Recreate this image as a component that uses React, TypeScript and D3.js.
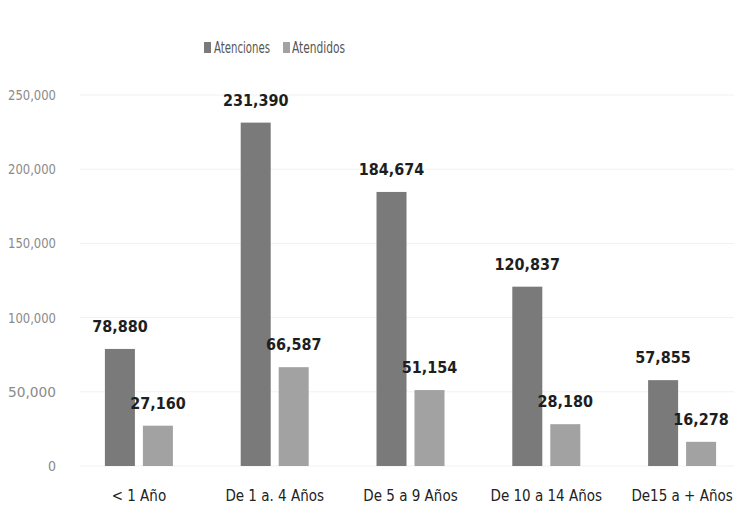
import React from "react";
import * as d3 from "d3";

const categories = ["< 1 Año", "De 1 a. 4 Años", "De 5 a 9 Años", "De 10 a 14 Años", "De15 a + Años"];
const seriesNames = ["Atenciones", "Atendidos"];
const atenciones = [78880, 231390, 184674, 120837, 57855];
const atendidos = [27160, 66587, 51154, 28180, 16278];
const yTicks = [0, 50000, 100000, 150000, 200000, 250000];

const W = 734;
const H = 524;
const colors = ["#7a7a7a", "#a2a2a2"];
const narrow = "'DejaVu Sans Condensed', 'Liberation Sans Narrow', 'Open Sans', sans-serif";

export default function App() {
  const x = d3.scaleBand<string>().domain(categories).range([71, 750]).paddingInner(0).paddingOuter(0);
  const inner = d3.scaleBand<string>().domain(seriesNames).range([-34, 34]).paddingInner(0.21);
  const y = d3.scaleLinear().domain([0, 250000]).range([466, 95]);
  const fmt = d3.format(",");
  const series = [atenciones, atendidos];

  return (
    <svg width={W} height={H} style={{ position: "absolute", left: 0, top: 0, background: "#fff" }}>
      {yTicks.map((t) => (
        <line key={"g" + t} x1={80} x2={W} y1={y(t)} y2={y(t)} stroke="#f1f1f1" strokeWidth={1} />
      ))}
      {yTicks.map((t) => (
        <text
          key={"t" + t}
          x={56}
          y={y(t)}
          dy="0.35em"
          textAnchor="end"
          fontFamily={narrow}
          fontSize={14}
          fill="#8a8a8a"
          {...(t > 0 ? { textLength: 48, lengthAdjust: "spacingAndGlyphs" } : {})}
        >
          {fmt(t)}
        </text>
      ))}
      {categories.map((c, i) => (
        <g key={c} transform={`translate(${(x(c) as number) + x.bandwidth() / 2},0)`}>
          {series.map((s, j) => {
            const bx = inner(seriesNames[j]) as number;
            const bw = inner.bandwidth();
            return (
              <g key={j}>
                <rect x={bx} y={y(s[i])} width={bw} height={y(0) - y(s[i])} fill={colors[j]} />
                <text x={bx + bw / 2} y={y(s[i]) - 17} textAnchor="middle" fontFamily={narrow} fontSize={16} fontWeight="bold" fill="#1e1e1e">
                  {fmt(s[i])}
                </text>
              </g>
            );
          })}
          <text x={0} y={501} textAnchor="middle" fontFamily={narrow} fontSize={15} fill="#222">
            {c}
          </text>
        </g>
      ))}
      <g fontFamily={narrow} fontSize={16} fill="#555">
        <rect x={204} y={42} width={7} height={11} fill={colors[0]} />
        <text x={214} y={53} textLength={56} lengthAdjust="spacingAndGlyphs">{seriesNames[0]}</text>
        <rect x={283} y={42} width={7} height={11} fill={colors[1]} />
        <text x={292} y={53} textLength={53} lengthAdjust="spacingAndGlyphs">{seriesNames[1]}</text>
      </g>
    </svg>
  );
}
